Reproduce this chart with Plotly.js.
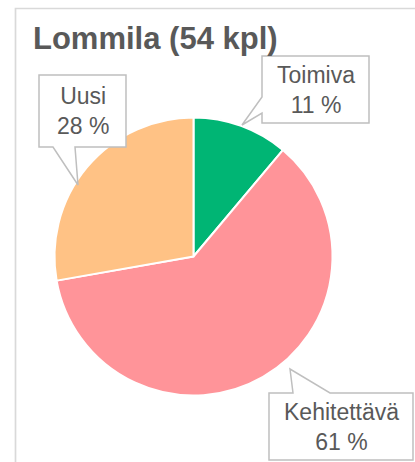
<!DOCTYPE html>
<html>
<head>
<meta charset="utf-8">
<script src="https://cdn.plot.ly/plotly-3.0.1.min.js"></script>
<style>
html,body{margin:0;padding:0;background:#fff;overflow:hidden;}
#chart{width:415px;height:462px;}
</style>
</head>
<body>
<div id="chart"></div>
<script>
// Data
const categories = ["Toimiva", "Kehitettävä", "Uusi"];
const counts = [6, 33, 15];
const colors = ["#00B574", "#FF9499", "#FFC285"];
const titleText = "Lommila (54 kpl)";

const W = 415, H = 462;
const px = x => x / W;
const py = y => 1 - y / H;
const total = counts.reduce((a, b) => a + b, 0);
const pct = counts.map(v => Math.round(v / total * 100) + " %");

// callout layout (box and pointer tip, pixel units)
const callouts = [
  {box: [262, 56, 369, 123], ptr: [[262, 97], [242, 125], [262, 113]], side: "left"},
  {box: [269, 393, 413, 460], ptr: [[293, 393], [290, 369], [330, 393]], side: "top"},
  {box: [39, 75, 126, 147], ptr: [[53, 147], [78, 185], [75, 147]], side: "bottom"}
];

function calloutPath(c) {
  const [x0, y0, x1, y1] = c.box;
  let pts;
  const p = c.ptr;
  if (c.side === "left") {
    pts = [[x0, y0], [x1, y0], [x1, y1], [x0, y1], p[2], p[1], p[0]];
  } else if (c.side === "top") {
    pts = [[x0, y0], p[0], p[1], p[2], [x1, y0], [x1, y1], [x0, y1]];
  } else {
    pts = [[x0, y0], [x1, y0], [x1, y1], p[2], p[1], p[0], [x0, y1]];
  }
  return pts.map((q, i) => (i ? "L" : "M") + px(q[0]).toFixed(5) + "," + py(q[1]).toFixed(5)).join(" ") + " Z";
}

const shapes = [
  {type: "rect", xref: "paper", yref: "paper", x0: px(15.5), y0: py(8.5), x1: px(440), y1: py(480),
   line: {color: "#D9D9D9", width: 1.7}, fillcolor: "rgba(0,0,0,0)", layer: "below"}
];
callouts.forEach(c => shapes.push({
  type: "path", xref: "paper", yref: "paper", path: calloutPath(c),
  line: {color: "#BFBFBF", width: 1.5}, fillcolor: "#FFFFFF", layer: "above"
}));

const annotations = callouts.map((c, i) => ({
  xref: "paper", yref: "paper",
  x: px((c.box[0] + c.box[2]) / 2), y: py((c.box[1] + c.box[3]) / 2),
  xanchor: "center", yanchor: "middle", showarrow: false,
  text: categories[i] + "<br>" + pct[i],
  font: {family: "Liberation Sans, Arial, sans-serif", size: 23, color: "#595959"}
}));

const cx = 193.5, cy = 256.5, r = 139;
const trace = {
  type: "pie",
  labels: categories,
  values: counts,
  sort: false,
  direction: "clockwise",
  rotation: 0,
  textinfo: "none",
  hoverinfo: "label+percent",
  marker: {colors: colors, line: {color: "#FFFFFF", width: 2}},
  domain: {x: [px(cx - r), px(cx + r)], y: [py(cy + r), py(cy - r)]},
  showlegend: false
};

const layout = {
  width: W, height: H,
  margin: {l: 0, r: 0, t: 0, b: 0},
  paper_bgcolor: "#FFFFFF",
  showlegend: false,
  title: {
    text: "<b>" + titleText + "</b>",
    x: px(33), xanchor: "left", xref: "paper",
    y: py(38), yanchor: "middle", yref: "paper",
    font: {family: "Liberation Sans, Arial, sans-serif", size: 31, color: "#595959"}
  },
  shapes: shapes,
  annotations: annotations
};

Plotly.newPlot("chart", [trace], layout, {displayModeBar: false, staticPlot: true});
</script>
</body>
</html>
